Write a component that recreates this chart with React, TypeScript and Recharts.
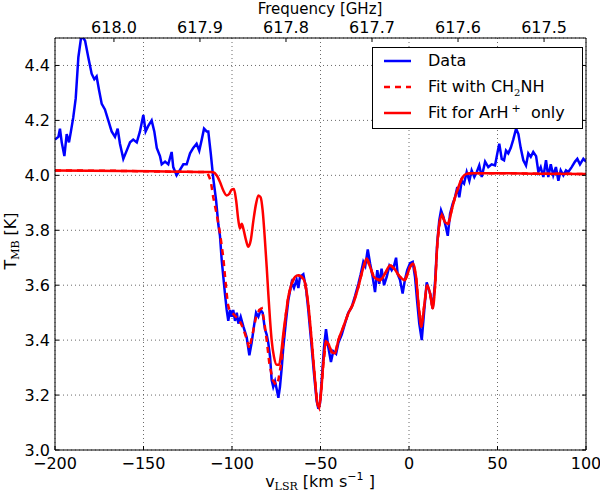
import React from 'react';
import { LineChart, Line, XAxis, YAxis, CartesianGrid, Legend, Label } from 'recharts';

// ---- axis ticks ----
const velocityTicks = [-200, -150, -100, -50, 0, 50, 100];
const tempTicks = [3.0, 3.2, 3.4, 3.6, 3.8, 4.0, 4.2, 4.4];
const freqTicks = [618.0, 617.9, 617.8, 617.7, 617.6, 617.5];

// frequency <-> velocity relation of the top axis
const REF_FREQ = 618.0;
const REF_VEL = -166.7;
const KMS_PER_GHZ = 486;
const toVel = (f: number) => REF_VEL + (REF_FREQ - f) * KMS_PER_GHZ;
const toFreq = (v: number) => REF_FREQ - (v - REF_VEL) / KMS_PER_GHZ;

// ---- observed spectrum [v_LSR, T_MB] ----
const observed: [number, number][] = [
  [-200, 4.13], [-198.1, 4.14], [-197.2, 4.17], [-196.2, 4.12], [-194.7, 4.07], [-193.4, 4.15],
  [-192.1, 4.12], [-191, 4.16], [-189.7, 4.21], [-188.3, 4.28], [-186.8, 4.43], [-185.3, 4.5],
  [-184, 4.5], [-183, 4.49], [-181.2, 4.43], [-179.3, 4.37], [-177.8, 4.35], [-176.5, 4.36],
  [-175.1, 4.31], [-173.6, 4.26], [-171.8, 4.24], [-169.9, 4.2], [-168, 4.16], [-166.1, 4.14],
  [-164.6, 4.17], [-163.3, 4.115], [-161.4, 4.06], [-159.5, 4.09], [-157.6, 4.12], [-155.8, 4.13],
  [-153.8, 4.12], [-152, 4.16], [-150.1, 4.22], [-148.8, 4.16], [-147.3, 4.18], [-145.4, 4.2],
  [-143.9, 4.16], [-142.5, 4.1], [-140.7, 4.07], [-139.7, 4.04], [-137.8, 4.05], [-136, 4.04],
  [-134.1, 4.085], [-133.2, 4.03], [-131.3, 4.0], [-129.4, 4.02], [-127.5, 4.04], [-125.6, 4.04],
  [-123.7, 4.08], [-121.9, 4.1], [-120, 4.115], [-118.5, 4.09], [-117.1, 4.13], [-115.8, 4.17],
  [-114.3, 4.16], [-113.4, 4.16], [-112, 4.08], [-110.6, 3.99], [-109, 3.91], [-107.7, 3.82],
  [-106.8, 3.78], [-105.8, 3.69], [-104.9, 3.63], [-104, 3.57], [-103, 3.51], [-102.1, 3.47],
  [-101.1, 3.51], [-100.2, 3.485], [-99.3, 3.51], [-98.3, 3.47], [-97.3, 3.5], [-96.4, 3.46],
  [-95.1, 3.485], [-93.6, 3.45], [-91.7, 3.41], [-90.2, 3.345], [-88.9, 3.39], [-87.6, 3.45],
  [-86.4, 3.5], [-85.1, 3.485], [-83.8, 3.51], [-82.7, 3.5], [-81.4, 3.44], [-80.4, 3.42],
  [-79.5, 3.39], [-78.5, 3.34], [-77.6, 3.255], [-76.7, 3.23], [-75.7, 3.25], [-74.7, 3.22],
  [-73.8, 3.19], [-72.9, 3.23], [-71.9, 3.3], [-71, 3.375], [-69.5, 3.47], [-68.2, 3.545],
  [-66.3, 3.61], [-65, 3.59], [-63.5, 3.62], [-62.5, 3.59], [-61.6, 3.63], [-59.7, 3.64],
  [-58.2, 3.59], [-56.9, 3.51], [-55, 3.375], [-53.7, 3.28], [-52.2, 3.18], [-51.2, 3.15],
  [-50.3, 3.17], [-49.3, 3.255], [-48, 3.375], [-46.9, 3.44], [-45.6, 3.375], [-44.1, 3.32],
  [-42.8, 3.36], [-41.2, 3.35], [-39.9, 3.39], [-38, 3.42], [-36.2, 3.46], [-34.3, 3.5],
  [-32.4, 3.52], [-30.5, 3.56], [-28.6, 3.605], [-27.3, 3.64], [-25.8, 3.685], [-24.7, 3.67],
  [-23.3, 3.73], [-22, 3.68], [-20.5, 3.63], [-19.2, 3.575], [-17.9, 3.655], [-16.8, 3.605],
  [-15.5, 3.66], [-14.1, 3.6], [-12.6, 3.63], [-11.1, 3.67], [-9.8, 3.655], [-8.5, 3.67],
  [-7.3, 3.7], [-6.4, 3.64], [-5.1, 3.62], [-3.6, 3.57], [-2.3, 3.62], [-1, 3.655],
  [0.6, 3.68], [2.1, 3.685], [3.4, 3.63], [4.7, 3.535], [5.8, 3.46], [7.2, 3.4],
  [8.5, 3.5], [10, 3.61], [11.9, 3.57], [13.4, 3.515], [14.7, 3.61], [16, 3.76],
  [17.1, 3.836], [18.1, 3.873], [19.4, 3.85], [20.9, 3.81], [21.9, 3.78], [23.2, 3.86],
  [24.7, 3.897], [26, 3.92], [27.3, 3.957], [28.4, 3.92], [29.8, 3.98], [31.1, 3.97],
  [32.6, 4.012], [34.1, 3.98], [35.4, 4.018], [36.9, 3.994], [38.3, 4.012], [39.7, 4.036],
  [41.1, 3.994], [43, 4.05], [44.8, 4.03], [46.7, 4.04], [48.6, 4.036], [49.9, 4.08],
  [51, 4.115], [52.4, 4.06], [53.7, 4.055], [54.8, 4.09], [56.1, 4.08], [57.5, 4.1],
  [58.9, 4.13], [60.5, 4.17], [61.8, 4.15], [63.1, 4.1], [64.6, 4.055], [66.1, 4.036],
  [67.4, 4.08], [68.8, 4.067], [70.2, 4.085], [71.8, 4.07], [73.1, 4.012], [74.4, 4.03],
  [75.9, 3.994], [77.4, 4.055], [78.7, 3.994], [80.1, 4.04], [81.5, 4.0], [83, 4.03],
  [84.4, 3.98], [85.7, 4.018], [87.2, 4.0], [88.7, 4.018], [90, 4.012], [91.9, 4.03],
  [93.8, 4.05], [95.1, 4.06], [96.6, 4.04], [98.5, 4.06], [100, 4.05],
];

// ---- fits [v_LSR, T_MB] ----
const fitContinuum: [number, number][] = [
  [-200, 4.018], [-160, 4.016], [-130, 4.013], [-114, 4.012],
];
const fitArOnlyPart: [number, number][] = [
  [-112, 4.012], [-110.6, 4.011], [-108.7, 4.0], [-106.8, 3.976], [-104.9, 3.945], [-103, 3.927],
  [-101.5, 3.933], [-100.2, 3.948], [-98.9, 3.95], [-97.7, 3.91], [-96.4, 3.836], [-95.5, 3.806],
  [-94.5, 3.824], [-93.6, 3.806], [-92.1, 3.764], [-90.8, 3.74], [-89.4, 3.764], [-87.9, 3.836],
  [-86.4, 3.897], [-85.1, 3.927], [-83.8, 3.92], [-82.7, 3.873], [-81.4, 3.764], [-80.4, 3.667],
  [-79.5, 3.57], [-78.5, 3.473], [-77.6, 3.4], [-76.3, 3.34], [-74.7, 3.31], [-73.4, 3.31],
  [-72.3, 3.35], [-71, 3.424],
];
const fitWithChPart: [number, number][] = [
  [-112, 3.98], [-110.6, 3.92], [-108.7, 3.86], [-106.8, 3.79], [-104.9, 3.7], [-103.4, 3.594],
  [-102.4, 3.533], [-101.5, 3.51], [-99.6, 3.497], [-97.7, 3.485], [-95.9, 3.473], [-94, 3.448],
  [-92.1, 3.412], [-90.2, 3.37], [-88.3, 3.424], [-86.4, 3.485], [-84.6, 3.51], [-83.2, 3.515],
  [-81.9, 3.473], [-80.4, 3.4], [-78.9, 3.315], [-77, 3.255], [-75.1, 3.236], [-73.8, 3.255],
  [-71.9, 3.327], [-71, 3.4],
];
const fitShared: [number, number][] = [
  [-69.5, 3.497], [-68.2, 3.557], [-66.3, 3.606], [-64.4, 3.63], [-62.5, 3.636], [-60.6, 3.63],
  [-58.8, 3.61], [-56.9, 3.53], [-55, 3.4], [-53.1, 3.255], [-51.8, 3.17], [-50.8, 3.155],
  [-49.7, 3.206], [-48.4, 3.315], [-46.9, 3.394], [-45.6, 3.388], [-43.7, 3.357], [-41.8, 3.352],
  [-39.9, 3.4], [-37.1, 3.448], [-34.3, 3.497], [-31.5, 3.533], [-28.6, 3.594], [-26.2, 3.655],
  [-23.9, 3.697], [-22, 3.667], [-19.8, 3.63], [-16.4, 3.618], [-13.6, 3.642], [-10.7, 3.673],
  [-8.3, 3.66], [-5.1, 3.63], [-2.3, 3.618], [0.6, 3.667], [2.4, 3.679], [4, 3.63],
  [5.5, 3.52], [7, 3.448], [8.5, 3.52], [10.2, 3.6], [11.9, 3.57], [13.4, 3.515],
  [14.7, 3.594], [16, 3.75], [17.5, 3.836], [18.6, 3.855], [20.3, 3.83], [22.2, 3.824],
  [24.1, 3.873], [26, 3.92], [27.9, 3.957], [29.8, 3.988], [31.7, 4.003], [34.5, 4.008],
  [50, 4.008], [75, 4.006], [100, 4.005],
];

const toRows = (pts: [number, number][]) => pts.map(([v, t]) => ({ v, t }));
const observedRows = toRows(observed);
const fitArRows = toRows([...fitContinuum, ...fitArOnlyPart, ...fitShared]);
const fitChRows = toRows([...fitContinuum, ...fitWithChPart, ...fitShared]);

const FONT = 'DejaVu Sans';
const tickStyle = { fill: '#000', fontSize: 16, fontFamily: FONT };
const minus = (s: string) => s.replace('-', '\u2212');

const LegendBox = () => {
  const row = (top: number, sample: React.ReactNode, label: React.ReactNode) => (
    <div style={{ position: 'absolute', left: 0, top, height: 20, width: '100%' }}>
      <svg width={30} height={20} style={{ position: 'absolute', left: 10, top: 0 }}>{sample}</svg>
      <div style={{ position: 'absolute', left: 55, top: 0, lineHeight: '20px', whiteSpace: 'nowrap' }}>{label}</div>
    </div>
  );
  return (
    <div style={{ width: 209, height: 80, border: '1px solid #000', background: '#fff', position: 'relative', fontFamily: FONT, fontSize: 16, color: '#000' }}>
      {row(3, <line x1={1} y1={10} x2={28} y2={10} stroke="#0000ff" strokeWidth={2.5} />, 'Data')}
      {row(29, <line x1={1} y1={10} x2={28} y2={10} stroke="#ff0000" strokeWidth={2.5} strokeDasharray="6 5" />,
        <span>Fit with CH<span style={{ fontSize: 10, position: 'relative', top: 4, fontFamily: 'DejaVu Serif' }}>2</span>NH</span>)}
      {row(55, <line x1={1} y1={10} x2={28} y2={10} stroke="#ff0000" strokeWidth={2.5} />,
        <span>Fit for ArH<span style={{ fontSize: 11, position: 'relative', top: -6, marginLeft: 3 }}>+</span>&nbsp; only</span>)}
    </div>
  );
};

export default function App() {
  return (
    <div style={{ position: 'absolute', left: 0, top: 0, width: 600, height: 492, background: '#fff' }}>
      <LineChart width={600} height={492} margin={{ top: 0, right: 0, bottom: 0, left: 0 }}>
        <CartesianGrid stroke="#444" strokeWidth={0.8} strokeDasharray="1 3" />
        <XAxis
          dataKey="v" type="number" domain={[-200, 100]} ticks={velocityTicks} interval={0}
          allowDataOverflow height={42} tickSize={-4} tickMargin={12}
          tick={tickStyle} tickFormatter={(v: number) => minus(String(v))}
          axisLine={{ stroke: '#000' }} tickLine={{ stroke: '#000' }}
        >
          <Label content={() => (
            <text x={320} y={487} textAnchor="middle" fontFamily={FONT} fontSize={16} fill="#000">
              v<tspan fontSize={11} dy={3} fontFamily="DejaVu Serif">LSR</tspan>
              <tspan dy={-3}> [km s</tspan>
              <tspan fontSize={11} dy={-7}>−1</tspan>
              <tspan dy={7}> ]</tspan>
            </text>
          )} />
        </XAxis>
        <XAxis
          xAxisId="top" orientation="top" dataKey="v" type="number" domain={[-200, 100]}
          ticks={freqTicks.map(toVel)} interval={0} allowDataOverflow height={38}
          tickSize={-4} tickMargin={9} tick={tickStyle}
          tickFormatter={(v: number) => toFreq(v).toFixed(1)}
          axisLine={{ stroke: '#000' }} tickLine={{ stroke: '#000' }}
        >
          <Label content={() => (
            <text x={320} y={14} textAnchor="middle" fontFamily={FONT} fontSize={15} fill="#000">Frequency [GHz]</text>
          )} />
        </XAxis>
        <YAxis
          type="number" domain={[3.0, 4.5]} ticks={tempTicks} interval={0} allowDataOverflow
          width={55} tickSize={-4} tickMargin={9} tick={tickStyle}
          tickFormatter={(v: number) => v.toFixed(1)}
          axisLine={{ stroke: '#000' }} tickLine={{ stroke: '#000' }}
        >
          <Label content={() => (
            <text x={16} y={241} transform="rotate(-90 16 241)" textAnchor="middle" fontFamily={FONT} fontSize={16} fill="#000">
              T<tspan fontSize={11} dy={3} fontFamily="DejaVu Serif">MB</tspan>
              <tspan dy={-3}> [K]</tspan>
            </text>
          )} />
        </YAxis>
        <YAxis
          yAxisId="right" orientation="right" type="number" domain={[3.0, 4.5]} ticks={tempTicks}
          interval={0} allowDataOverflow width={14} tickSize={-4} tickMargin={2}
          tick={tickStyle} tickFormatter={() => ''}
          axisLine={{ stroke: '#000' }} tickLine={{ stroke: '#000' }}
        />
        <Line data={observedRows} dataKey="t" name="Data" type="linear" stroke="#0000ff" strokeWidth={2.5} dot={false} isAnimationActive={false} />
        <Line data={fitChRows} dataKey="t" name="Fit with CH2NH" type="linear" stroke="#ff0000" strokeWidth={2.5} strokeDasharray="6 5" dot={false} isAnimationActive={false} />
        <Line data={fitArRows} dataKey="t" name="Fit for ArH+ only" type="monotone" stroke="#ff0000" strokeWidth={2.5} dot={false} isAnimationActive={false} />
        <Legend
          layout="horizontal" verticalAlign="middle" align="center"
          wrapperStyle={{ position: 'absolute', left: 372, top: 47, width: 211, height: 82 }}
          content={() => <LegendBox />}
        />
      </LineChart>
    </div>
  );
}
